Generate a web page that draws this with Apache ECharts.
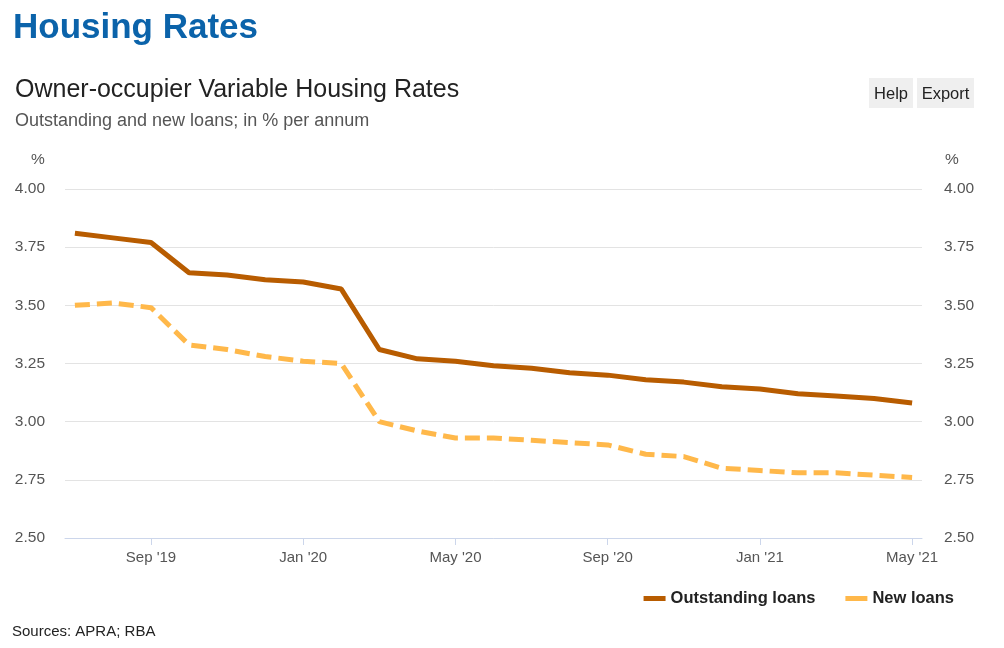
<!DOCTYPE html>
<html><head><meta charset="utf-8">
<script src="https://cdn.jsdelivr.net/npm/echarts@6/dist/echarts.min.js"></script>
<style>html,body{margin:0;padding:0;background:#fff}#c{width:1004px;height:648px}</style>
</head><body><div id="c"></div>
<script>
const months = ["Jul '19","Aug '19","Sep '19","Oct '19","Nov '19","Dec '19","Jan '20","Feb '20","Mar '20","Apr '20","May '20","Jun '20","Jul '20","Aug '20","Sep '20","Oct '20","Nov '20","Dec '20","Jan '21","Feb '21","Mar '21","Apr '21","May '21"];
const outstandingLoans = [3.81,3.79,3.77,3.64,3.63,3.61,3.60,3.57,3.31,3.27,3.26,3.24,3.23,3.21,3.20,3.18,3.17,3.15,3.14,3.12,3.11,3.10,3.08];
const newLoans = [3.50,3.51,3.49,3.33,3.31,3.28,3.26,3.25,3.00,2.96,2.93,2.93,2.92,2.91,2.90,2.86,2.85,2.80,2.79,2.78,2.78,2.77,2.76];
const xTickIdx = [2,6,10,14,18,22];
const xTickLabels = ["Sep '19","Jan '20","May '20","Sep '20","Jan '21","May '21"];
const seriesNames = ["Outstanding loans","New loans"];

const F = "'Liberation Sans', Arial, sans-serif";
const chart = echarts.init(document.getElementById('c'), null, {renderer:'canvas'});
const yAxisBase = (pos) => ({
  type:'value', position:pos, min:2.5, max:4.0, interval:0.25,
  axisLine:{show:false}, axisTick:{show:false},
  splitLine:{show: pos==='left', lineStyle:{color:'#e3e3e3', width:1}},
  axisLabel:{color:'#555', fontFamily:F, fontSize:15.5, margin: pos==='left'?20:22,
    padding:[3,0,0,0], formatter:v=>v.toFixed(2)}
});
chart.setOption({
  animation:false,
  textStyle:{fontFamily:F},
  graphic:[
    {type:'text', x:13, y:28, style:{text:'Housing Rates', fill:'#0b63aa', font:"bold 35px "+F, verticalAlign:'middle'}},
    {type:'text', x:15, y:90, style:{text:'Owner-occupier Variable Housing Rates', fill:'#222', font:"25px "+F, verticalAlign:'middle'}},
    {type:'text', x:15, y:121, style:{text:'Outstanding and new loans; in % per annum', fill:'#555', font:"18px "+F, verticalAlign:'middle'}},
    {type:'rect', shape:{x:869,y:78,width:44,height:30}, style:{fill:'#efefef'}},
    {type:'text', x:891, y:94, style:{text:'Help', fill:'#222', font:"16.5px "+F, align:'center', verticalAlign:'middle'}},
    {type:'rect', shape:{x:917,y:78,width:57,height:30}, style:{fill:'#efefef'}},
    {type:'text', x:945.5, y:94, style:{text:'Export', fill:'#222', font:"16.5px "+F, align:'center', verticalAlign:'middle'}},
    {type:'text', x:38, y:160, style:{text:'%', fill:'#555', font:"15.5px "+F, align:'center', verticalAlign:'middle'}},
    {type:'text', x:952, y:160, style:{text:'%', fill:'#555', font:"15.5px "+F, align:'center', verticalAlign:'middle'}},
    {type:'text', x:12, y:632, style:{text:'Sources: APRA; RBA', fill:'#222', font:"15px "+F, verticalAlign:'middle'}}
  ],
  grid:{left:65, right:82, top:189, bottom:110, containLabel:false},
  legend:{
    right:45, top:585, itemWidth:22, itemHeight:5, itemGap:30,
    textStyle:{fontFamily:F, fontSize:16.5, fontWeight:'bold', color:'#222', padding:[2,0,0,0]},
    data: seriesNames.map(n=>({name:n, icon:'rect'}))
  },
  xAxis:{
    type:'value', min:-0.26, max:22.26,
    axisLine:{show:true, onZero:false, lineStyle:{color:'#ccd6eb'}},
    axisTick:{show:true, length:7, lineStyle:{color:'#ccd6eb'}, customValues:xTickIdx},
    axisLabel:{color:'#555', fontFamily:F, fontSize:15, margin:12, customValues:xTickIdx,
      formatter:v=>{const i=xTickIdx.indexOf(Math.round(v)); return i>=0?xTickLabels[i]:'';}},
    splitLine:{show:false}
  },
  yAxis:[yAxisBase('left'), yAxisBase('right')],
  series:[
    {name:seriesNames[0], type:'line', data:outstandingLoans.map((v,i)=>[i,v]), symbol:'none',
      lineStyle:{color:'#b85c00', width:5}, itemStyle:{color:'#b85c00'}, z:3},
    {name:seriesNames[1], type:'line', data:newLoans.map((v,i)=>[i,v]), symbol:'none',
      lineStyle:{color:'#ffb84a', width:5, type:[15,7]}, itemStyle:{color:'#ffb84a'}, z:2}
  ]
});
</script></body></html>
